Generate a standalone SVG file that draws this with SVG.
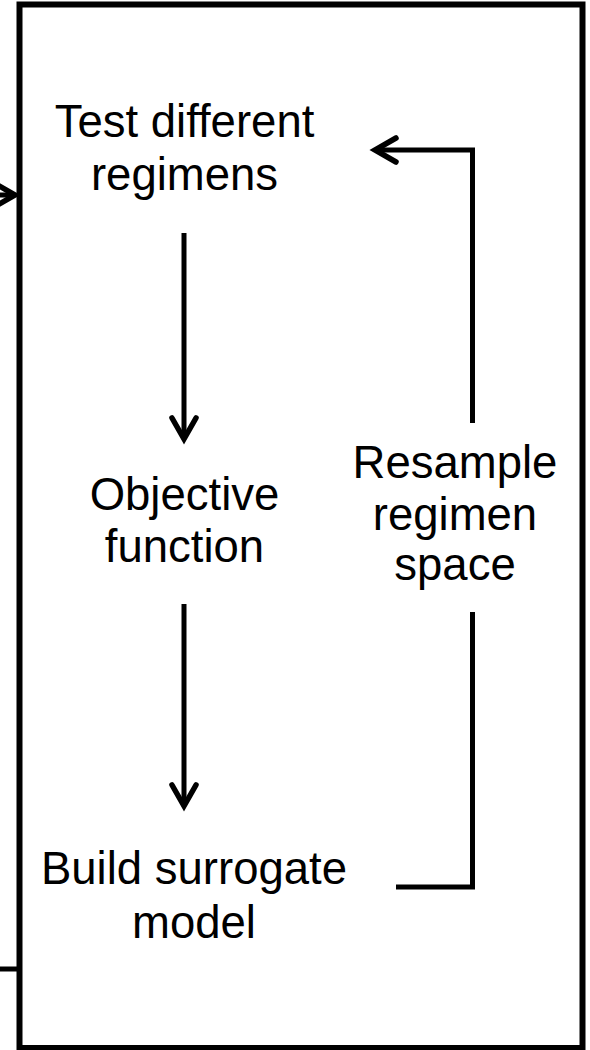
<svg xmlns="http://www.w3.org/2000/svg" width="590" height="1050" viewBox="0 0 590 1050">
<style>
text{font-family:"Liberation Sans",Arial,sans-serif;font-size:45.5px;fill:#000;text-anchor:middle}
.c{fill:none;stroke:#000;stroke-width:5}
</style>
<defs>
<marker id="ah" markerUnits="userSpaceOnUse" orient="auto" markerWidth="40" markerHeight="40" refX="0" refY="0" viewBox="-30 -20 40 40" overflow="visible">
<path d="M-21,-12 L0,0 L-21,12" fill="none" stroke="#000" stroke-width="5.5" stroke-linecap="round" stroke-linejoin="miter"/>
</marker>
</defs>
<rect x="0" y="0" width="590" height="1050" fill="#fff"/>
<g id="frame"><rect x="19.5" y="4.5" width="563" height="1043.5" fill="none" stroke="#000" stroke-width="6"/></g>
<g id="test"><text x="184.5" y="137">Test different</text><text x="184.5" y="190">regimens</text></g>
<g id="objective"><text x="184.5" y="510">Objective</text><text x="184.5" y="562">function</text></g>
<g id="build"><text x="194" y="884">Build surrogate</text><text x="194" y="938">model</text></g>
<g id="resample"><text x="455" y="478">Resample</text><text x="455" y="530">regimen</text><text x="455" y="580">space</text></g>
<g id="connectors">
<line class="c" x1="0" y1="195" x2="15" y2="195" marker-end="url(#ah)"/>
<line class="c" x1="0" y1="969" x2="18" y2="969"/>
<line class="c" x1="184" y1="233" x2="184" y2="439" marker-end="url(#ah)"/>
<line class="c" x1="184" y1="604" x2="184" y2="806" marker-end="url(#ah)"/>
<polyline class="c" points="396,887 472.5,887 472.5,612"/>
<polyline class="c" points="472.5,423 472.5,150 375,150" marker-end="url(#ah)"/>
</g>
</svg>
